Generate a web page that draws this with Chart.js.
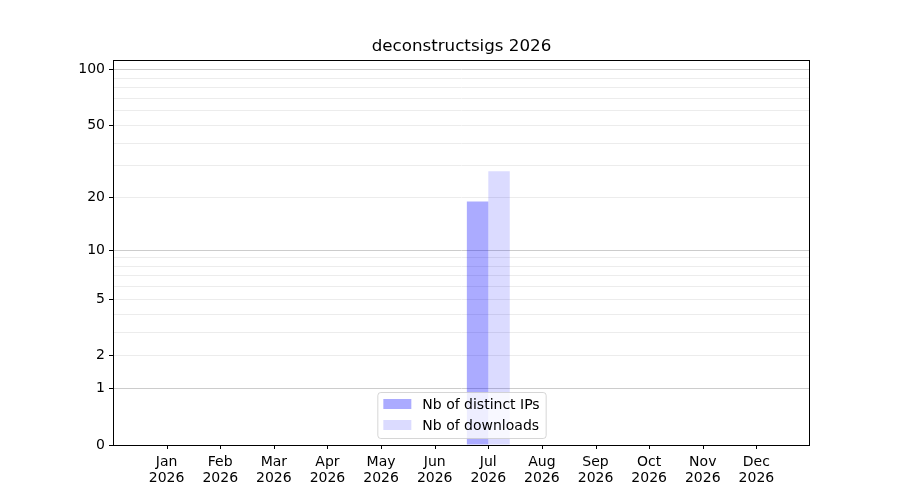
<!DOCTYPE html>
<html>
<head>
<meta charset="utf-8">
<script src="https://cdn.jsdelivr.net/npm/chart.js@4/dist/chart.umd.min.js"></script>
<style>
html,body{margin:0;padding:0;background:#fff;}
#wrap{width:900px;height:500px;position:relative;}
</style>
</head>
<body>
<div id="wrap"><canvas id="c"></canvas></div>
<script>
const title = 'deconstructsigs 2026';
const months = ['Jan','Feb','Mar','Apr','May','Jun','Jul','Aug','Sep','Oct','Nov','Dec'];
const year = '2026';
const distinctIPs = [0,0,0,0,0,0,19,0,0,0,0,0];
const downloads   = [0,0,0,0,0,0,28,0,0,0,0,0];
const seriesLabels = ['Nb of distinct IPs','Nb of downloads'];
const yTickLabels = [0,1,2,5,10,20,50,100];
const yMajorGrid = [1,10,100];
const yMinorGrid = [2,3,4,5,6,7,8,9,20,30,40,50,60,70,80,90];
const yAxisMax = 113;

const f = v => Math.log10(1 + v);
const gridVals = [0].concat(yMajorGrid, yMinorGrid).sort((a,b)=>a-b);

const FONT = 'DejaVu Sans';
const colIPs = 'rgba(0,0,255,0.33)';
const colDL = 'rgba(0,0,255,0.14)';

const framePlugin = {
  id: 'frame',
  afterDraw(chart) {
    const {ctx, chartArea: a} = chart;
    ctx.save();
    ctx.strokeStyle = '#000';
    ctx.lineWidth = 1;
    ctx.strokeRect(Math.round(a.left)+0.5, Math.round(a.top)+0.5, Math.round(a.right-a.left)-1, Math.round(a.bottom-a.top));
    // x tick marks
    const xs = chart.scales.x;
    ctx.beginPath();
    months.forEach((m, i) => {
      const px = Math.round(xs.getPixelForValue(i)) + 0.5;
      ctx.moveTo(px, a.bottom);
      ctx.lineTo(px, a.bottom + 4);
    });
    ctx.stroke();
    // title centered over the plot area
    ctx.fillStyle = '#000';
    ctx.font = '16.7px "' + FONT + '"';
    ctx.textAlign = 'center';
    ctx.textBaseline = 'middle';
    ctx.fillText(title, (a.left + a.right) / 2, 47);
    // legend (lower center, inside)
    ctx.font = '14px "' + FONT + '"';
    const tw = Math.max(...seriesLabels.map(s => ctx.measureText(s).width));
    const pad = 6, hl = 28, gap = 11, rowH = 21;
    const w = pad + hl + gap + tw + pad;
    const h = 46;
    const cx = (a.left + a.right) / 2;
    const x0 = cx - w / 2;
    const y0 = a.bottom - 7 - h;
    ctx.fillStyle = 'rgba(255,255,255,0.8)';
    ctx.strokeStyle = 'rgba(204,204,204,0.8)';
    ctx.beginPath();
    if (ctx.roundRect) ctx.roundRect(x0+0.5, y0+0.5, w, h, 3); else ctx.rect(x0+0.5, y0+0.5, w, h);
    ctx.fill(); ctx.stroke();
    const cols = chart.data.datasets.map(d => d.backgroundColor);
    ctx.textBaseline = 'middle';
    ctx.textAlign = 'left';
    for (let i = 0; i < seriesLabels.length; i++) {
      const yc = y0 + 12 + i * rowH;
      ctx.fillStyle = cols[i];
      ctx.fillRect(x0 + pad, yc - 5, hl, 10);
      ctx.fillStyle = '#000';
      ctx.fillText(seriesLabels[i], x0 + pad + hl + gap, yc + 1);
    }
    ctx.restore();
  }
};

new Chart(document.getElementById('c'), {
  type: 'bar',
  data: {
    datasets: [
      { label: seriesLabels[0], data: distinctIPs.map((v,i)=>({x:i, y:f(v)})), backgroundColor: colIPs, borderWidth: 0,
        categoryPercentage: 0.8, barPercentage: 1.0 },
      { label: seriesLabels[1], data: downloads.map((v,i)=>({x:i, y:f(v)})), backgroundColor: colDL, borderWidth: 0,
        categoryPercentage: 0.8, barPercentage: 1.0 }
    ]
  },
  options: {
    responsive: true,
    maintainAspectRatio: false,
    animation: false,
    events: [],
    layout: { padding: { left: 0, right: 90, top: 60, bottom: 0 } },
    plugins: {
      legend: { display: false },
      tooltip: { enabled: false },
      title: { display: false }
    },
    scales: {
      x: {
        type: 'linear', min: -1, max: 12, offset: false,
        afterBuildTicks: s => { s.ticks = months.map((m,i)=>({value:i})); },
        afterFit: s => { s.height = 55; },
        grid: { display: true, offset: false, drawOnChartArea: false, drawTicks: true, tickLength: 4, tickColor: 'rgba(0,0,0,0)', tickWidth: 1 },
        border: { display: false },
        ticks: {
          autoSkip: false, maxRotation: 0, minRotation: 0, padding: 5, color: '#000',
          font: { family: FONT, size: 14, lineHeight: 1.15 },
          callback: (v) => [months[v], year]
        }
      },
      y: {
        type: 'linear', min: 0, max: f(yAxisMax),
        afterBuildTicks: s => { s.ticks = gridVals.map(v=>({value:f(v)})); },
        afterFit: s => { s.width = 113; },
        grid: {
          display: true, offset: false, drawOnChartArea: true, drawTicks: true, tickLength: 4, tickWidth: 1,
          color: c => { const v = gridVals[c.index]; return v === 0 ? 'rgba(0,0,0,0)' : (yMajorGrid.includes(v) ? '#cccccc' : '#ececec'); },
          lineWidth: 1,
          tickColor: c => yTickLabels.includes(gridVals[c.index]) ? '#000' : 'rgba(0,0,0,0)'
        },
        border: { display: false },
        ticks: {
          autoSkip: false, padding: 4, color: '#000',
          font: { family: FONT, size: 14 },
          callback: (val, idx) => yTickLabels.includes(gridVals[idx]) ? String(gridVals[idx]) : ''
        }
      }
    }
  },
  plugins: [framePlugin]
});
</script>
</body>
</html>
